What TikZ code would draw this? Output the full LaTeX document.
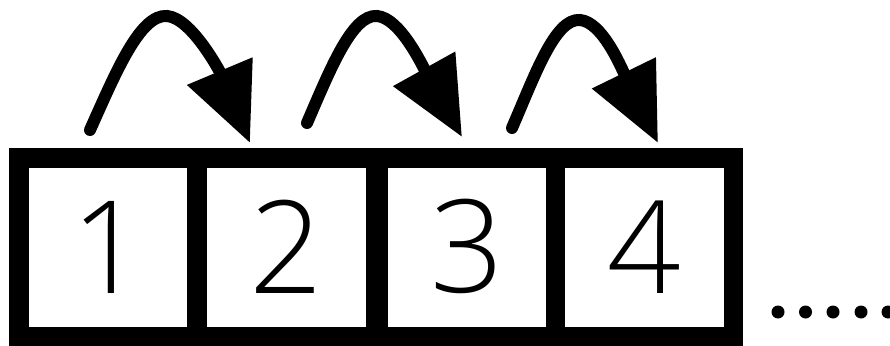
\documentclass[tikz,border=0pt]{standalone}
\usepackage{fontspec}
\IfFontExistsTF{Open Sans Light}{\setmainfont{Open Sans Light}}{\setmainfont{Open Sans}}
\usetikzlibrary{arrows.meta}
\begin{document}
\begin{tikzpicture}[x=1pt,y=-1pt,
  cell/.style={fill=white,inner sep=0pt,minimum height=159pt,text height=92pt,
    font=\fontsize{129}{129}\selectfont},
  jump/.style={line width=12pt,line cap=round,-{Triangle[length=78pt,width=68pt]}},
  dotmark/.style={fill=black}]
\useasboundingbox (0,0) rectangle (890,345);
\fill[white] (0,0) rectangle (890,345);
\fill[black] (9,148) rectangle (743,350);
\node[cell,minimum width=158pt] (c1) at (108,247.5) {1};
\node[cell,minimum width=159pt] (c2) at (286.5,247.5) {2};
\node[cell,minimum width=158pt] (c3) at (467,247.5) {3};
\node[cell,minimum width=159pt] (c4) at (644.5,247.5) {4};
\coordinate (t1) at (90,130);
\coordinate (h1) at (250,143);
\coordinate (t2) at (307,123);
\coordinate (h2) at (462,137);
\coordinate (t3) at (512,128);
\coordinate (h3) at (658,143);
\draw[jump] (t1) .. controls (116,72) and (140,14) .. (167,16)
  .. controls (192,18) and (221,74) .. (h1);
\draw[jump] (t2) .. controls (330,70) and (352,14) .. (377,16)
  .. controls (400,18) and (422,65) .. (h2);
\draw[jump] (t3) .. controls (535,75) and (555,18) .. (580,20)
  .. controls (602,22) and (620,65) .. (h3);
\foreach \i/\x in {1/778,2/805.5,3/833,4/861,5/888}
  \fill[dotmark] (\x,312) circle (6.5) coordinate (d\i);
\end{tikzpicture}
\end{document}
